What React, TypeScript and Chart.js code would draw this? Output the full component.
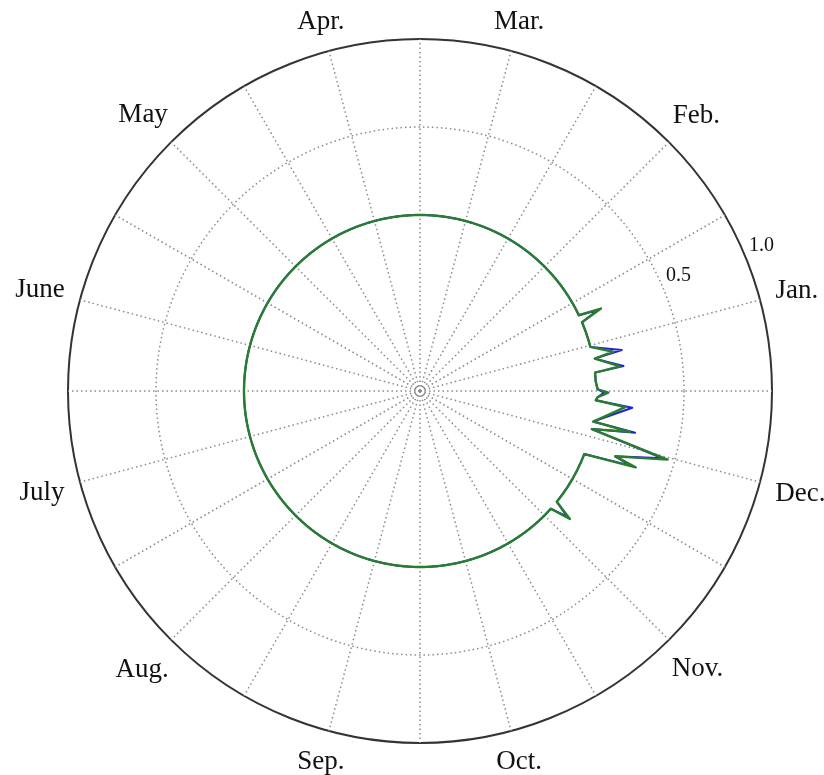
import React, { useEffect, useRef } from 'react';
import { Chart, registerables } from 'chart.js';

Chart.register(...registerables);

// Month labels and their angles (degrees, counter-clockwise from east = Jan 1)
const monthLabels = ['Jan.', 'Feb.', 'Mar.', 'Apr.', 'May', 'June', 'July', 'Aug.', 'Sep.', 'Oct.', 'Nov.', 'Dec.'];
const monthAngles = [15, 45, 75, 105, 135, 165, 195, 225, 255, 285, 315, 345];

// Radial axis
const rMin = -1;
const rMax = 1;
const radialTicks = [0.5, 1.0];
const radialTickLabels = ['0.5', '1.0'];

// Vertices of the spiky part of the series (angle in degrees, ccw from east)
const spikeAngles = [25.5, 24.5, 23, 20, 17, 14.5, 11.5, 10.5, 7, 6, 3, 0.5, -0.5, -2, -3, -4.5, -10, -11, -12.5, -15.5, -18.5, -19.5, -21, -24, -27, -30, -33, -36, -39, -40.5, -42];
const greenValues = [0, 0.13, 0, 0, 0, 0, 0.12, 0.01, 0.145, 0, 0, 0.01, 0.07, 0.01, 0, 0.17, 0, 0.215, 0, 0.46, 0.17, 0.30, 0, 0, 0, 0, 0, 0, 0, 0.12, 0];
const blueValues = [0, 0.11, 0, 0, 0, 0, 0.17, 0.01, 0.165, 0, 0, 0.01, 0.045, 0.01, 0, 0.21, 0, 0.245, 0, 0.43, 0.17, 0.27, 0, 0, 0, 0, 0, 0, 0, 0.10, 0];
// rest of the year the series sits flat at this value
const baselineValue = 0;

const STEPS = 720; // half-degree angular resolution
const angleToIndex = (deg: number) => ((Math.round(2 * (180 - deg)) % STEPS) + STEPS) % STEPS;

function buildSeries(values: number[]): (number | null)[] {
  const first = angleToIndex(spikeAngles[0]);
  const last = angleToIndex(spikeAngles[spikeAngles.length - 1]);
  const out: (number | null)[] = [];
  for (let i = 0; i < STEPS; i++) out.push(i > first && i < last ? null : baselineValue);
  spikeAngles.forEach((a, k) => {
    out[angleToIndex(a)] = values[k];
  });
  return out;
}

const labels = Array.from({ length: STEPS }, (_, i) => String(i));
const isSpoke = (i: number) => i % 30 === 0;

const GRID_GRAY = '#8a8a8a';
const DOT: number[] = [1.5, 3];
const SERIF = '"Liberation Serif", "Times New Roman", serif';

const textPlugin = {
  id: 'polarText',
  afterDraw(chart: any) {
    const scale = chart.scales.r;
    const ctx = chart.ctx;
    const R = scale.drawingArea;
    ctx.save();
    ctx.fillStyle = '#111';
    ctx.textAlign = 'center';
    ctx.textBaseline = 'middle';
    ctx.font = '27px ' + SERIF;
    monthLabels.forEach((m, k) => {
      const a = (monthAngles[k] * Math.PI) / 180;
      const w = ctx.measureText(m).width;
      const d = R + 15 + Math.abs(Math.cos(a)) * (w / 2) + Math.abs(Math.sin(a)) * 10;
      const p = scale.getPointPosition(angleToIndex(monthAngles[k]), d);
      ctx.fillText(m, p.x, p.y + 1);
    });
    ctx.font = '20px ' + SERIF;
    const tickAngles = [24, 23];
    radialTicks.forEach((v, k) => {
      const d = scale.getDistanceFromCenterForValue(v) + 19;
      const p = scale.getPointPosition(angleToIndex(tickAngles[k]), d);
      ctx.fillText(radialTickLabels[k], p.x, p.y);
    });
    ctx.restore();
  },
};

export default function App() {
  const canvasRef = useRef<HTMLCanvasElement | null>(null);

  useEffect(() => {
    if (!canvasRef.current) return;
    const chart = new Chart(canvasRef.current, {
      type: 'radar',
      data: {
        labels,
        datasets: [
          {
            label: 'green',
            data: buildSeries(greenValues),
            borderColor: '#2a7d2e',
            backgroundColor: 'rgba(0,0,0,0)',
            borderWidth: 2.4,
            borderJoinStyle: 'round',
            spanGaps: true,
            fill: false,
            pointRadius: 0,
          },
          {
            label: 'blue',
            data: buildSeries(blueValues),
            borderColor: '#1f1fe0',
            backgroundColor: 'rgba(0,0,0,0)',
            borderWidth: 2.0,
            borderJoinStyle: 'round',
            spanGaps: true,
            fill: false,
            pointRadius: 0,
          },
        ],
      } as any,
      options: {
        animation: false,
        responsive: true,
        maintainAspectRatio: false,
        layout: { padding: { left: 68, right: 52, top: 39, bottom: 32 } },
        plugins: { legend: { display: false }, tooltip: { enabled: false } },
        elements: { point: { radius: 0, hoverRadius: 0 }, line: { tension: 0 } },
        scales: {
          r: {
            type: 'radialLinear',
            min: rMin,
            max: rMax,
            startAngle: 270,
            afterBuildTicks: (scale: any) => {
              scale.ticks = radialTicks.map((v) => ({ value: v }));
            },
            ticks: { display: false },
            pointLabels: { display: false },
            grid: {
              circular: true,
              color: (c: any) => (c.tick && c.tick.value === 1 ? '#333333' : GRID_GRAY),
              lineWidth: (c: any) => (c.tick && c.tick.value === 1 ? 2 : 1.5),
              borderDash: (c: any) => (c.tick && c.tick.value === 1 ? [] : DOT),
            },
            border: {
              dash: (c: any) => (c.tick && c.tick.value === 1 ? [] : DOT),
            },
            angleLines: {
              color: (c: any) => (isSpoke(c.index) ? GRID_GRAY : 'rgba(0,0,0,0)'),
              lineWidth: (c: any) => (isSpoke(c.index) ? 1.5 : 0),
              borderDash: DOT,
            },
          },
        },
      } as any,
      plugins: [textPlugin],
    });
    return () => chart.destroy();
  }, []);

  return (
    <div style={{ position: 'absolute', left: 0, top: 0, width: 824, height: 775 }}>
      <canvas ref={canvasRef} />
    </div>
  );
}
